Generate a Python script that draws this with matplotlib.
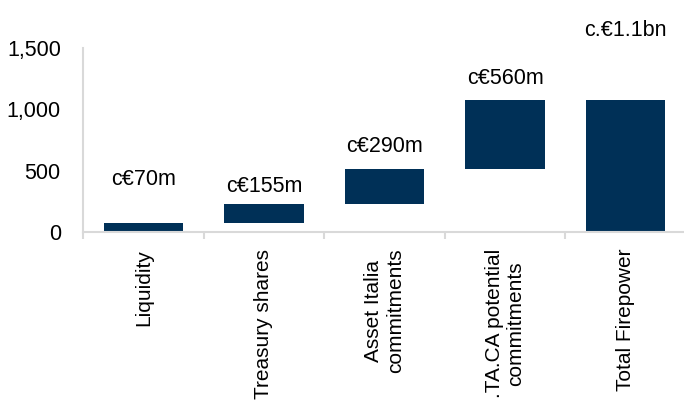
import matplotlib
matplotlib.use("Agg")
import matplotlib.pyplot as plt
import numpy as np

plt.rcParams['font.family'] = ['Liberation Sans', 'DejaVu Sans']

categories = ["Liquidity", "Treasury shares", "Asset Italia\ncommitments",
              ".TA.CA potential\ncommitments", "Total Firepower"]
bottoms = [0, 70, 225, 515, 0]
heights = [70, 155, 290, 560, 1075]
labels = ["c€70m", "c€155m", "c€290m", "c€560m", "c.€1.1bn"]
label_y = [425, 375, 700, 1255, 1645]

bar_color = "#003057"
grid_grey = "#d9d9d9"

fig = plt.figure(figsize=(6.84, 4.08), dpi=100)
ax = fig.add_axes([83 / 684, 1 - 232 / 408, 603 / 684, 184 / 408])

x = np.arange(len(categories))
ax.bar(x, heights, bottom=bottoms, width=0.66, color=bar_color)

for xi, txt, yi in zip(x, labels, label_y):
    ax.text(xi, yi, txt, ha="center", va="center", fontsize=15.5, clip_on=False)

ax.set_xlim(-0.5, len(categories) - 0.5)
ax.set_ylim(0, 1500)
ax.set_yticks([0, 500, 1000, 1500])
ax.set_yticklabels(["0", "500", "1,000", "1,500"])
ax.tick_params(axis="y", length=0, labelsize=15.5, pad=16)

ax.set_xticks(x)
ax.set_xticklabels(categories, rotation=90, fontsize=15, va="top",
                   ha="center", multialignment="center", linespacing=1.2)
ax.tick_params(axis="x", which="major", length=0, pad=12)
ax.set_xticks(np.arange(-0.5, len(categories), 1.0), minor=True)
ax.tick_params(axis="x", which="minor", length=5, color=grid_grey, width=1.5)

for side in ["top", "right"]:
    ax.spines[side].set_visible(False)
for side in ["left", "bottom"]:
    ax.spines[side].set_color(grid_grey)
    ax.spines[side].set_linewidth(1.5)

fig.savefig("out.png", dpi=100)
